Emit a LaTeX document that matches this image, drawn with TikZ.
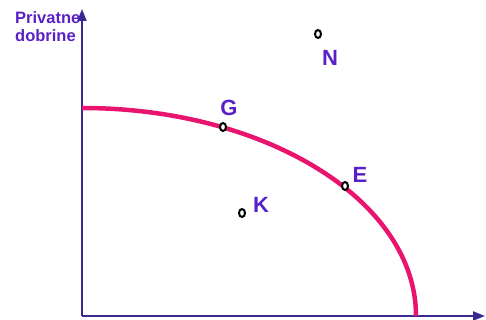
\documentclass[tikz,border=0pt]{standalone}
\usepackage{fontspec}
\setmainfont{Liberation Sans}
\usetikzlibrary{arrows.meta,shapes.geometric}
\definecolor{axiscol}{HTML}{3A2A90}
\definecolor{labcol}{HTML}{5A20C8}
\definecolor{curvecol}{HTML}{E8146E}
\begin{document}
\begin{tikzpicture}[x=1pt,y=1pt,
  axisline/.style={draw=axiscol,line width=2pt,-{Triangle[length=12pt,width=9pt]}},
  ppf/.style={draw=curvecol,line width=4.5pt},
  ptmark/.style={ellipse,draw=black,fill=white,line width=2pt,minimum width=6pt,minimum height=8pt,inner sep=0pt},
  ptlabel/.style={text=labcol,font=\bfseries\fontsize{22}{24}\selectfont,inner sep=0pt}]
\useasboundingbox (0,0) rectangle (486,320);
\coordinate (O) at (82,4);
\coordinate (Y) at (82,311);
\coordinate (X) at (485,4);
\coordinate (C0) at (82,212);
\draw[axisline] (O) -- (Y);
\draw[axisline] (O) -- (X);
\draw[ppf] (C0) arc[start angle=90,end angle=0,x radius=334pt,y radius=208pt];
\node[ptmark] (g) at (223,193) {};
\node[ptmark] (n) at (318,286) {};
\node[ptmark] (e) at (345,134) {};
\node[ptmark] (k) at (242,107) {};
\node[ptlabel] (gl) at (229,212) {G};
\node[ptlabel] (nl) at (330,262) {N};
\node[ptlabel] (el) at (360,145) {E};
\node[ptlabel] (kl) at (261,115) {K};
\node[text=labcol,font=\bfseries\fontsize{16.5}{18}\selectfont,align=left,anchor=base west,inner sep=0pt] (yl) at (15,278) {Privatne\\dobrine};
\end{tikzpicture}
\end{document}
